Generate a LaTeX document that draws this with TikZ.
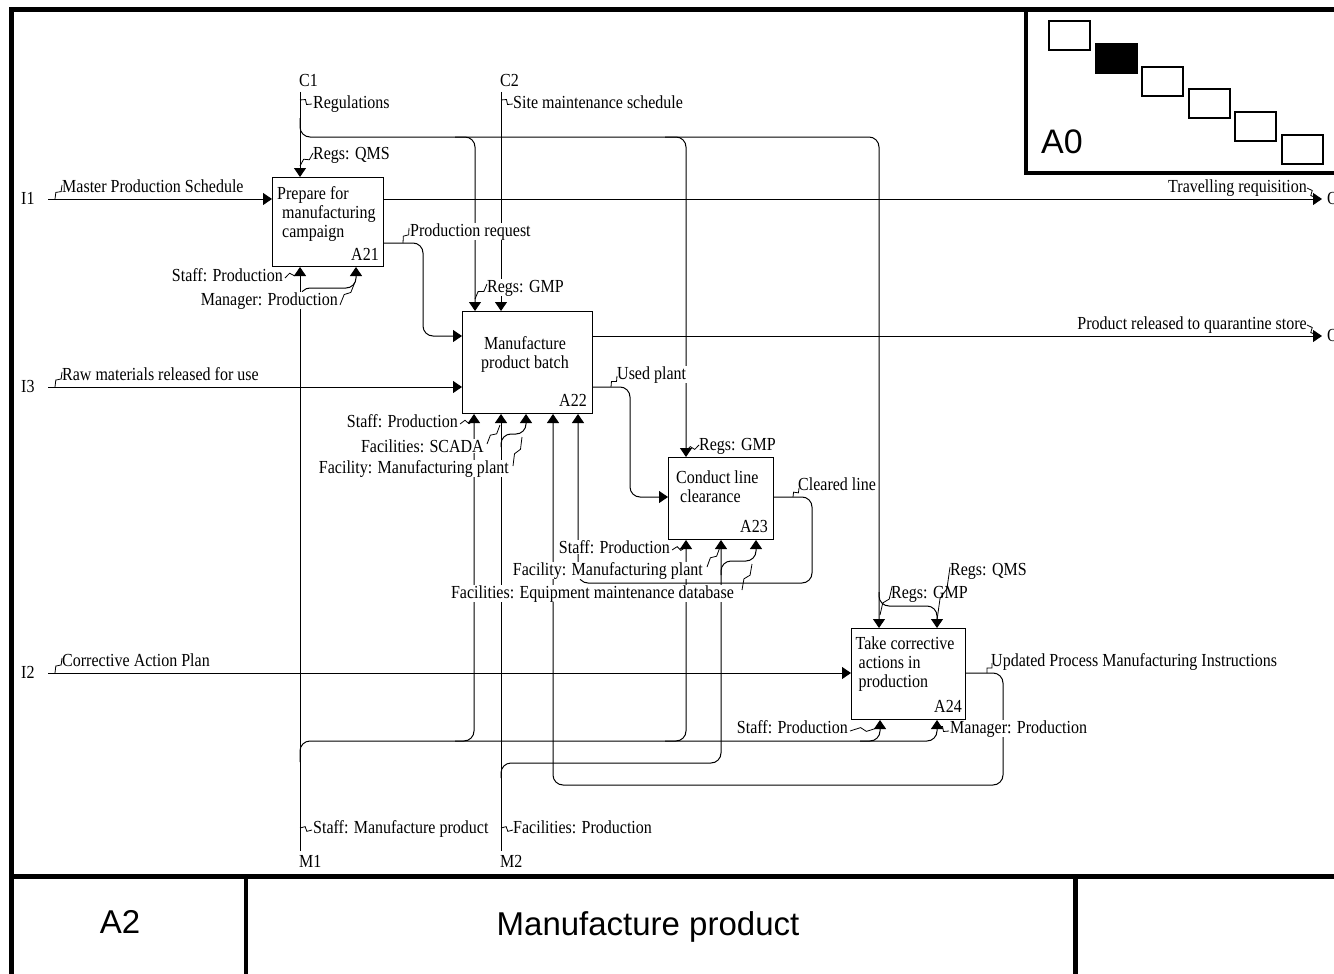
\documentclass[tikz,border=0pt]{standalone}
\usepackage{fontspec}
\setmainfont{Liberation Serif}[FakeStretch=0.87]
\newfontfamily\framefont{Liberation Sans}
\usetikzlibrary{arrows.meta,calc}
\newcommand\labfont{\fontsize{18.4}{19}\selectfont}
% lightning-bolt tie between a label and its arrow
\newcommand\zz[2]{\draw[sq] (#1) -- ($(#1)!0.4!(#2)!2.2pt!90:(#2)$) -- ($(#1)!0.6!(#2)!2.2pt!-90:(#2)$) -- (#2);}

\begin{document}
\begin{tikzpicture}[x=1pt,y=-1pt,
  arr/.style={line width=1pt,-{Triangle[length=9pt,width=12pt]}},
  rc/.style={rounded corners=10pt},
  sq/.style={line width=0.8pt},
  lbl/.style={font=\labfont, fill=white, inner xsep=1pt, inner ysep=0.5pt, anchor=base west},
  lblr/.style={lbl, anchor=base east},
  fn/.style={draw, line width=1pt, fill=white, anchor=north west, inner sep=0pt},
  fntext/.style={font=\labfont, align=left, anchor=north west, inner sep=0pt},
  idt/.style={font=\labfont, anchor=base east, inner sep=0pt},
  frm/.style={line width=4.5pt},
  mini/.style={draw, line width=2pt, minimum width=41pt, minimum height=29pt, anchor=north west, inner sep=0pt},
  big/.style={font=\framefont\fontsize{33}{36}\selectfont, anchor=base, inner sep=0pt},
  ]
\clip (0,0) rectangle (1334,974);
\fill[white] (0,0) rectangle (1334,974);

% ---- sheet frame and title block
\draw[frm] (11.5,990) -- (11.5,9.5) -- (1345,9.5);
\draw[frm] (11.5,876.5) -- (1345,876.5);
\draw[frm] (246,876.5) -- (246,990);
\draw[frm] (1075.5,876.5) -- (1075.5,990);
\draw[frm] (1026,9.5) -- (1026,173) -- (1345,173);
\node[big] (nodeid) at (120,933) {A2};
\node[big] (title) at (648,935) {Manufacture product};
\node[big, font=\framefont\fontsize{34}{36}\selectfont] (pageid) at (1062,153) {A0};

% ---- node tree thumbnail
\foreach \i in {0,...,5} {
  \node[mini] (m\i) at ({1048+46.6*\i},{20+22.8*\i}) {};
}
\node[mini, fill=black] (mcur) at (m1.north west) {};

% ---- boundary arrow ends
\coordinate (C1) at (300,92);
\coordinate (C2) at (501,92);
\coordinate (I1) at (48,199);
\coordinate (I3) at (48,387);
\coordinate (I2) at (48,673);
\coordinate (M1) at (300,851);
\coordinate (M2) at (501,851);
\coordinate (O1) at (1322,199);
\coordinate (O2) at (1322,336);

% ---- activity boxes
\node[fn, minimum width=111pt, minimum height=89pt] (A21) at (272,177) {};
\node[fn, minimum width=130pt, minimum height=102pt] (A22) at (462,311) {};
\node[fn, minimum width=105pt, minimum height=82pt] (A23) at (668,457) {};
\node[fn, minimum width=114pt, minimum height=91pt] (A24) at (851,628) {};

\node[fntext] (A21t) at (277,186) {Prepare for\\\hspace*{5pt}manufacturing\\\hspace*{5pt}campaign};
\node[fntext, align=center, anchor=north] (A22t) at (525,336) {Manufacture\\product batch};
\node[fntext] (A23t) at (676,471) {Conduct line\\\hspace*{4pt}clearance};
\node[fntext] (A24t) at (855.5,637) {Take corrective\\\hspace*{3pt}actions in\\\hspace*{3pt}production};

\node[idt] (A21n) at (379,260) {A21};
\node[idt] (A22n) at (587,406) {A22};
\node[idt] (A23n) at (768,532) {A23};
\node[idt] (A24n) at (962,712) {A24};

% ---- controls
\draw[arr] (C1) -- (C1 |- A21.north);
\draw[arr, rc] (300,118) -- (300,137) -- (879,137) -- (879,137 |- A24.north);
\draw[arr, rc] (455,137) -- (475,137) -- (475,137 |- A22.north);
\draw[arr, rc] (665,137) -- (686,137) -- (686,137 |- A23.north);
\draw[arr] (C2) -- (C2 |- A22.north);
\draw[arr, rc] (879,592) -- (879,606) -- (937,606) -- (937,606 |- A24.north);

% ---- inputs
\draw[arr] (I1) -- (I1 -| A21.west);
\draw[arr] (I3) -- (I3 -| A22.west);
\draw[arr] (I2) -- (I2 -| A24.west);

% ---- outputs and feedback
\draw[arr] (A21.east |- I1) -- (O1);
\draw[arr, rc] (A21.east |- 0,243) -- (423,243) -- (423,336) -- (423,336 -| A22.west);
\draw[arr] (A22.east |- O2) -- (O2);
\draw[arr, rc] (A22.east |- I3) -- (630,387) -- (630,497) -- (630,497 -| A23.west);
\draw[arr, rc] (A23.east |- 0,497) -- (812,497) -- (812,583) -- (578,583) -- (578,583 |- A22.south);
\draw[arr, rc] (A24.east |- I2) -- (1003,673) -- (1003,785) -- (553,785) -- (553,785 |- A22.south);

% ---- mechanisms
\draw[arr] (M1) -- (M1 |- A21.south);
\draw[arr, rc] (300,300) -- (300,288) -- (356,288) -- (356,288 |- A21.south);
\draw[arr, rc] (300,762) -- (300,741) -- (937,741) -- (937,741 |- A24.south);
\draw[arr, rc] (455,741) -- (474,741) -- (474,741 |- A22.south);
\draw[arr, rc] (665,741) -- (686,741) -- (686,741 |- A23.south);
\draw[arr, rc] (860,741) -- (880,741) -- (880,741 |- A24.south);
\draw[arr] (M2) -- (M2 |- A22.south);
\draw[arr, rc] (501,778) -- (501,763) -- (721,763) -- (721,763 |- A23.south);
\draw[arr, rc] (721,575) -- (721,561) -- (756,561) -- (756,561 |- A23.south);
\draw[arr, rc] (501,447) -- (501,434) -- (526,434) -- (526,434 |- A22.south);

% ---- boundary codes
\node[lbl] (tI1) at (20,204) {I1};
\node[lbl] (tI3) at (20,392) {I3};
\node[lbl] (tI2) at (20,678) {I2};
\node[lbl] (tC1) at (298,87) {C1};
\node[lbl] (tC2) at (499,87) {C2};
\node[lbl] (tM1) at (298,867) {M1};
\node[lbl] (tM2) at (499,867) {M2};
\node[lbl] (tO1) at (1326,204) {O1};
\node[lbl] (tO2) at (1326,341) {O2};

% ---- arrow labels
\node[lbl] (mps) at (61,192) {Master Production Schedule};
\node[lbl] (reg) at (312,108) {Regulations};
\node[lbl] (rqms) at (312,159) {Regs: QMS};
\node[lbl] (sms) at (512,108) {Site maintenance schedule};
\node[lbl] (preq) at (409,236) {Production request};
\node[lbl] (rgmp1) at (486,292) {Regs: GMP};
\node[lblr] (treq) at (1308,192) {Travelling requisition};
\node[lblr] (prq) at (1308,329) {Product released to quarantine store};
\node[lbl] (raw) at (61,380) {Raw materials released for use};
\node[lbl] (used) at (616,379) {Used plant};
\node[lblr] (sp22) at (459,427) {Staff: Production};
\node[lblr] (scada) at (485,452) {Facilities: SCADA};
\node[lblr] (fmp22) at (510,473) {Facility: Manufacturing plant};
\node[lbl] (rgmp2) at (698,450) {Regs: GMP};
\node[lbl] (clr) at (797,490) {Cleared line};
\node[lblr] (sp23) at (671,553) {Staff: Production};
\node[lblr] (fmp23) at (704,575) {Facility: Manufacturing plant};
\node[lblr] (emd) at (735,598) {Facilities: Equipment maintenance database};
\node[lbl] (rqms4) at (949,575) {Regs: QMS};
\node[lbl] (rgmp4) at (890,598) {Regs: GMP};
\node[lbl] (cap) at (61,666) {Corrective Action Plan};
\node[lbl] (upmi) at (990,666) {Updated Process Manufacturing Instructions};
\node[lblr] (sp24) at (849,733) {Staff: Production};
\node[lbl] (mp24) at (949,733) {Manager: Production};
\node[lblr] (sp21) at (284,281) {Staff: Production};
\node[lblr] (mp21) at (339,305) {Manager: Production};
\node[lbl] (smp) at (312,833) {Staff: Manufacture product};
\node[lbl] (fp) at (512,833) {Facilities: Production};

% ---- label ties
\zz{55,199}{62,185}
\zz{300,100}{312,104}
\zz{300,166}{313,153}
\zz{501,100}{513,104}
\zz{403,243}{409,228}
\zz{475,299}{487,284}
\zz{1307,188}{1316,198}
\zz{1307,325}{1316,335}
\zz{55,387}{62,372}
\zz{611,387}{617,376}
\zz{460,424}{474,420}
\zz{487,444}{500,425}
\zz{513,466}{522,437}
\zz{686,451}{699,445}
\zz{793,497}{799,488}
\zz{672,550}{686,547}
\zz{707,567}{720,547}
\zz{742,590}{752,564}
\zz{950,567}{937,620}
\zz{892,587}{880,615}
\zz{55,673}{62,658}
\zz{987,673}{992,663}
\zz{850,731}{877,728}
\zz{937,727}{949,731}
\zz{285,278}{299,271}
\zz{340,305}{355,282}
\zz{300,828}{312,830}
\zz{501,828}{513,830}
\end{tikzpicture}
\end{document}
